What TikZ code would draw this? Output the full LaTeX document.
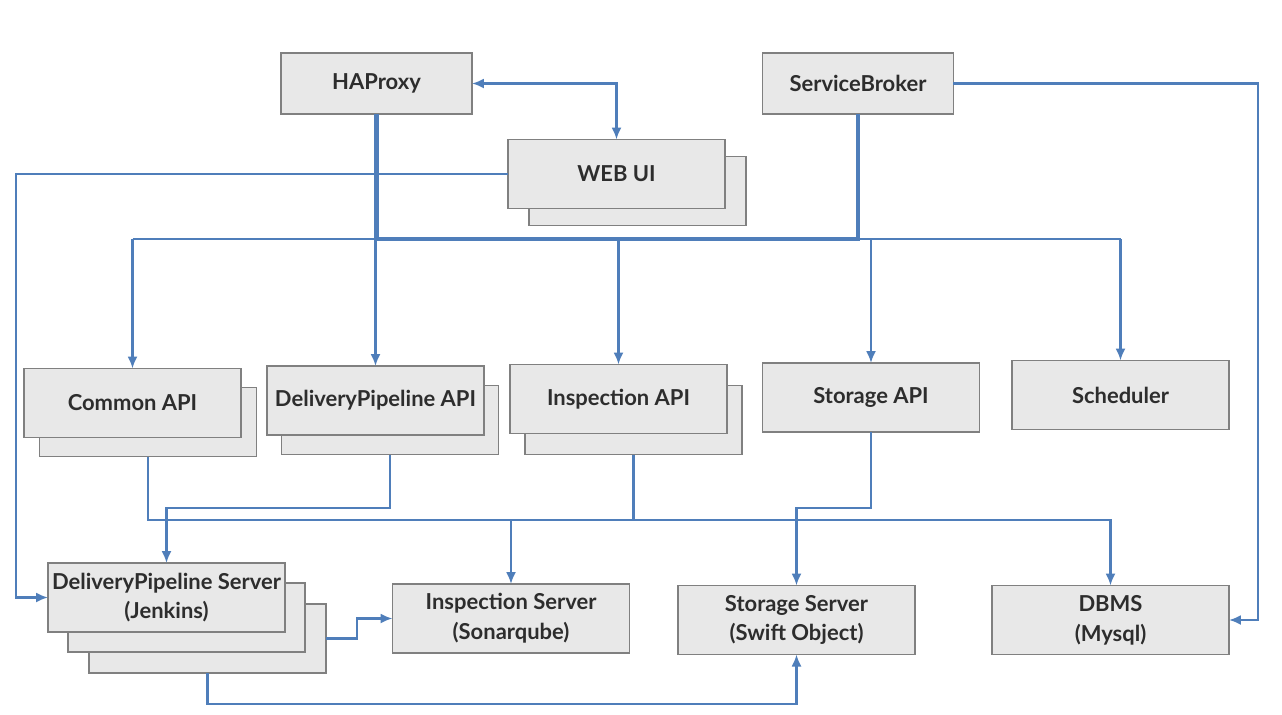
\documentclass[tikz,border=0pt]{standalone}
\usepackage{fontspec}
\setmainfont{Lato}
\usepackage{tikz}
\usetikzlibrary{arrows.meta}

\definecolor{boxfill}{RGB}{232,232,232}
\definecolor{boxline}{RGB}{128,128,128}
\definecolor{linkblue}{RGB}{79,126,186}
\definecolor{txt}{RGB}{45,45,45}

\tikzset{
  box/.style={draw=boxline, fill=boxfill, line width=0.9pt, inner sep=0pt, outer sep=0pt,
    text=txt, font=\fontsize{12.5}{17}\selectfont\bfseries, align=center},
  topbox/.style={box, minimum width=3.82cm, minimum height=1.22cm},
  apibox/.style={box, minimum width=4.34cm, minimum height=1.38cm},
  srvbox/.style={box, minimum width=4.74cm, minimum height=1.38cm},
  link/.style={draw=linkblue, line width=1.2pt},
  bus/.style={draw=linkblue, line width=2.4pt},
  arr/.style={-{Latex[length=2.4mm,width=2mm]}}
}

\begin{document}
\begin{tikzpicture}[x=0.02cm, y=-0.02cm]
\useasboundingbox[fill=white] (0,0) rectangle (1282,714);

% top row
\node[topbox] (ha) at (376.5,83.5) {HAProxy};
\node[topbox] (sb) at (858,83.5) {ServiceBroker};
\node[apibox] (webB) at (637.5,191) {};
\node[apibox] (web) at (616.5,174) {WEB UI};

% api row
\node[apibox] (commonB) at (148,422) {};
\node[apibox] (common) at (132.5,403) {Common API};
\node[apibox] (dpapiB) at (390,420) {};
\node[apibox] (dpapi) at (375.5,400.5) {DeliveryPipeline API};
\node[apibox] (inapiB) at (633.5,420) {};
\node[apibox] (inapi) at (618.5,399) {Inspection API};
\node[apibox] (stapi) at (871,397.5) {Storage API};
\node[apibox] (sched) at (1120.5,395) {Scheduler};

% server row
\node[srvbox] (dps3) at (207.5,638.5) {};
\node[srvbox] (dps2) at (186.5,617.5) {};
\node[srvbox] (dps1) at (166.5,597.5) {DeliveryPipeline Server\\(Jenkins)};
\node[srvbox] (insrv) at (511,618.5) {Inspection Server\\(Sonarqube)};
\node[srvbox] (stsrv) at (796.5,620) {Storage Server\\(Swift Object)};
\node[srvbox] (dbms) at (1110.5,620) {DBMS\\(Mysql)};

% rails
\coordinate (busy) at (0,239);
\coordinate (lowy) at (0,520);
\coordinate (midy) at (0,508);
\coordinate (leftx) at (16,0);
\coordinate (rightx) at (1258,0);

\draw[link, {Latex[length=2.4mm,width=2mm]}-{Latex[length=2.4mm,width=2mm]}] (ha.east) -| (web.north);
\draw[link, arr] (web.west) -- (web.west -| leftx) |- (dps1.west);
\draw[link, arr] (sb.east) -- (sb.east -| rightx) |- (dbms.east);

\draw[bus] (ha.south) -- (ha.south |- busy) -- (sb.south |- busy) -- (sb.south);
\draw[link] (common.north |- busy) -- (sched.north |- busy);
\foreach \n in {common, dpapi, inapi, stapi, sched}
  \draw[link, arr] (\n.north |- busy) -- (\n.north);

\draw[link, arr] (commonB.south) -- (commonB.south |- lowy) -| (dbms.north);
\draw[link] (inapiB.south) -- (inapiB.south |- lowy);
\draw[link, arr] (insrv.north |- lowy) -- (insrv.north);
\draw[link, arr] (dpapiB.south) -- (dpapiB.south |- midy) -| (dps1.north);
\draw[link, arr] (stapi.south) -- (stapi.south |- midy) -| (stsrv.north);

\draw[link, arr] (dps3.east) -- ++(31,0) |- (insrv.west);
\draw[link, arr] (dps3.south) -- ++(0,31) -| (stsrv.south);
\end{tikzpicture}
\end{document}
